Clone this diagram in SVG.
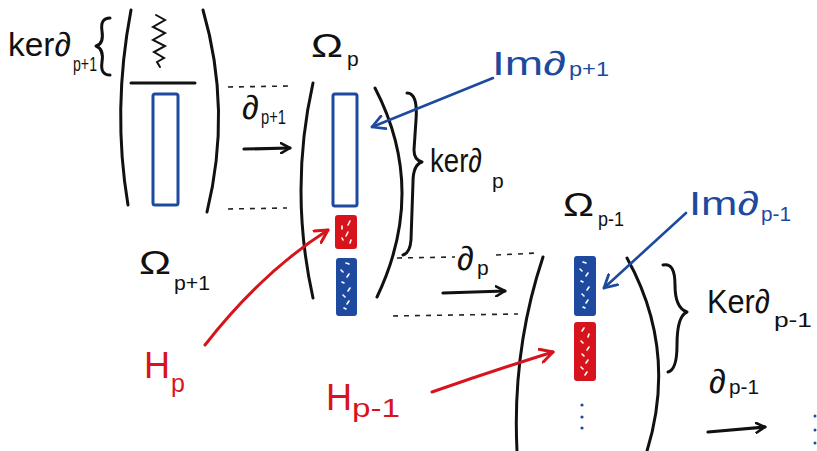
<svg xmlns="http://www.w3.org/2000/svg" width="817" height="451" viewBox="0 0 817 451">
<defs>
<style>
.ink{fill:none;stroke:#111;stroke-width:3;stroke-linecap:round;stroke-linejoin:round}
.thin{fill:none;stroke:#111;stroke-width:2;stroke-linecap:round}
.dash{fill:none;stroke:#222;stroke-width:1.6;stroke-dasharray:5 6}
.blueln{fill:none;stroke:#1d4a9e;stroke-width:2.6;stroke-linecap:round}
.redln{fill:none;stroke:#d7141c;stroke-width:3;stroke-linecap:round}
.blkarrow{fill:none;stroke:#111;stroke-width:3.2;stroke-linecap:round}
.box{fill:#fff;stroke:#1d4a9e;stroke-width:3}
.fb{fill:#1d4a9e;stroke:#1d4a9e;stroke-width:2}
.fr{fill:#d7141c;stroke:#d7141c;stroke-width:2}
.spk{stroke:#fff;stroke-width:1.6;stroke-linecap:round}
text{font-family:"Liberation Sans","DejaVu Sans",sans-serif}
.lb{fill:#111;font-size:34px}
.sb{fill:#111;font-size:21px}
.lbb{fill:#1d4a9e;font-size:34px}
.sbb{fill:#1d4a9e;font-size:21px}
.lbr{fill:#d7141c;font-size:36px}
.sbr{fill:#d7141c;font-size:25px}
</style>
<marker id="hk" viewBox="0 0 12 12" refX="10" refY="6" markerWidth="12" markerHeight="12" markerUnits="userSpaceOnUse" orient="auto"><path d="M1,1 L10,6 L1,11" fill="none" stroke="#111" stroke-width="2.6" stroke-linecap="round" stroke-linejoin="round"/></marker>
<marker id="hb" viewBox="0 0 14 14" refX="12" refY="7" markerWidth="16" markerHeight="16" markerUnits="userSpaceOnUse" orient="auto"><path d="M1,1 L12,7 L1,13" fill="none" stroke="#1d4a9e" stroke-width="2.4" stroke-linecap="round" stroke-linejoin="round"/></marker>
<marker id="hr" viewBox="0 0 14 14" refX="12" refY="7" markerWidth="16" markerHeight="16" markerUnits="userSpaceOnUse" orient="auto"><path d="M1,1 L12,7 L1,13" fill="none" stroke="#d7141c" stroke-width="2.6" stroke-linecap="round" stroke-linejoin="round"/></marker>
</defs>
<rect width="817" height="451" fill="#fff"/>

<g id="omega-p1">
<path class="ink" d="M131,10 Q112,110 128,205"/>
<path class="ink" d="M203,10 Q232,110 207,212"/>
<path class="thin" d="M156,15 L165,20 L153,27 L165,33 L153,40 L165,46 L154,52 L164,58 L157,62 L160,67"/>
<path class="ink" d="M131,83 L195,83"/>
<rect class="box" x="153" y="94" width="25" height="111" rx="2"/>
<path class="ink" d="M110,18 Q100,18 102,31 Q104,44 96,46 Q104,49 102,62 Q100,75 110,75"/>
<text><tspan class="lb" x="8" y="56" textLength="63" lengthAdjust="spacingAndGlyphs">ker∂</tspan><tspan class="sb" x="73" y="71" textLength="24" lengthAdjust="spacingAndGlyphs">p+1</tspan></text>
<text><tspan class="lb" x="139" y="274" textLength="32" lengthAdjust="spacingAndGlyphs">Ω</tspan><tspan class="sb" x="174" y="290" textLength="36" lengthAdjust="spacingAndGlyphs">p+1</tspan></text>
</g>

<g id="omega-p">
<path class="ink" d="M313,83 Q289,190 313,298"/>
<path class="ink" d="M375,88 Q428,190 377,297"/>
<rect class="box" x="333" y="94" width="24" height="112" rx="2"/>
<rect class="fr" x="336" y="216" width="20" height="32" rx="2"/>
<path class="spk" d="M350,221 l-2,4 M342,226 l0,3 M348,232 l-2,4 M342,238 l1,2 M351,240 l-1,3"/>
<rect class="fb" x="337" y="259" width="19" height="56" rx="2"/>
<path class="spk" d="M346,263 l3,1 M341,270 l2,2 M349,274 l-2,3 M342,282 l2,1 M350,288 l-2,3 M343,295 l2,2 M349,301 l-2,3 M344,308 l2,1"/>
<path class="ink" d="M407,93 Q418,93 416,120 L414,150 Q414,160 422,162 Q413,165 413,182 L411,240 Q410,253 403,255"/>
<text><tspan class="lb" x="311" y="57" textLength="32" lengthAdjust="spacingAndGlyphs">Ω</tspan><tspan class="sb" x="347" y="66">p</tspan></text>
<text><tspan class="lb" x="430" y="172" textLength="52" lengthAdjust="spacingAndGlyphs">ker∂</tspan><tspan class="sb" x="492" y="188">p</tspan></text>
</g>

<g id="omega-pm1">
<path class="ink" d="M543,257 Q512,350 517,451"/>
<path class="ink" d="M627,258 Q678,350 647,451"/>
<rect class="fb" x="575" y="257" width="20" height="58" rx="2"/>
<path class="spk" d="M583,262 l3,1 M580,269 l2,2 M588,273 l-2,3 M581,281 l2,1 M589,287 l-2,3 M582,294 l2,2 M588,300 l-2,3 M583,307 l2,1"/>
<rect class="fr" x="575" y="323" width="20" height="57" rx="2"/>
<path class="spk" d="M584,328 l-2,3 M589,334 l-1,3 M581,341 l2,2 M589,347 l-2,3 M582,354 l2,2 M588,360 l-2,3 M581,367 l2,2 M587,372 l-2,3"/>
<circle cx="582" cy="405" r="1.6" fill="#1d4a9e"/>
<circle cx="582" cy="417" r="1.6" fill="#1d4a9e"/>
<circle cx="582" cy="428" r="1.6" fill="#1d4a9e"/>
<path class="ink" d="M663,265 Q675,262 675,285 Q675,308 687,312 Q677,316 677,345 Q677,370 668,372"/>
<text><tspan class="lb" x="563" y="216" textLength="31" lengthAdjust="spacingAndGlyphs">Ω</tspan><tspan class="sb" x="598" y="226" textLength="26" lengthAdjust="spacingAndGlyphs">p-1</tspan></text>
<text><tspan class="lb" x="707" y="313" textLength="63" lengthAdjust="spacingAndGlyphs">Ker∂</tspan><tspan class="sb" x="774" y="327" textLength="38" lengthAdjust="spacingAndGlyphs">p-1</tspan></text>
</g>

<g id="next-dots">
<circle cx="815" cy="416" r="1.5" fill="#1d4a9e"/>
<circle cx="815" cy="430" r="1.5" fill="#1d4a9e"/>
<circle cx="815" cy="443" r="1.5" fill="#1d4a9e"/>
</g>

<g id="label-im-p1">
<text><tspan class="lbb" x="492" y="75" textLength="74" lengthAdjust="spacingAndGlyphs">Im∂</tspan><tspan class="sbb" x="569" y="76" textLength="40" lengthAdjust="spacingAndGlyphs">p+1</tspan></text>
</g>
<g id="label-im-pm1">
<text><tspan class="lbb" x="689" y="215" textLength="70" lengthAdjust="spacingAndGlyphs">Im∂</tspan><tspan class="sbb" x="761" y="221" textLength="30" lengthAdjust="spacingAndGlyphs">p-1</tspan></text>
</g>
<g id="label-hp">
<text><tspan class="lbr" x="144" y="378">H</tspan><tspan class="sbr" x="171" y="392">p</tspan></text>
</g>
<g id="label-hpm1">
<text><tspan class="lbr" x="326" y="410">H</tspan><tspan class="sbr" x="352" y="417" textLength="48" lengthAdjust="spacingAndGlyphs">p-1</tspan></text>
</g>
<g id="label-d">
<text><tspan class="lb" x="242" y="119">∂</tspan><tspan class="sb" x="261" y="124" textLength="25" lengthAdjust="spacingAndGlyphs">p+1</tspan></text>
<text><tspan class="lb" x="457" y="270">∂</tspan><tspan class="sb" x="477" y="275">p</tspan></text>
<text><tspan class="lb" x="709" y="393">∂</tspan><tspan class="sb" x="729" y="394" textLength="30" lengthAdjust="spacingAndGlyphs">p-1</tspan></text>
</g>

<g id="connectors">
<path class="dash" d="M228,87 L292,86"/>
<path class="dash" d="M228,209 L287,208"/>
<path class="dash" d="M397,258 L455,257"/>
<path class="dash" d="M496,255 L537,253"/>
<path class="dash" d="M393,316 L518,314"/>
<path class="blkarrow" d="M244,149 L290,148" marker-end="url(#hk)"/>
<path class="blkarrow" d="M443,293 L505,291" marker-end="url(#hk)"/>
<path class="blkarrow" d="M708,432 L765,427" marker-end="url(#hk)"/>
<path class="blueln" d="M493,78 L372,127" marker-end="url(#hb)"/>
<path class="blueln" d="M686,213 L604,288" marker-end="url(#hb)"/>
<path class="redln" d="M205,345 Q262,272 328,230" marker-end="url(#hr)"/>
<path class="redln" d="M432,392 Q495,370 553,352" marker-end="url(#hr)"/>
</g>
</svg>
